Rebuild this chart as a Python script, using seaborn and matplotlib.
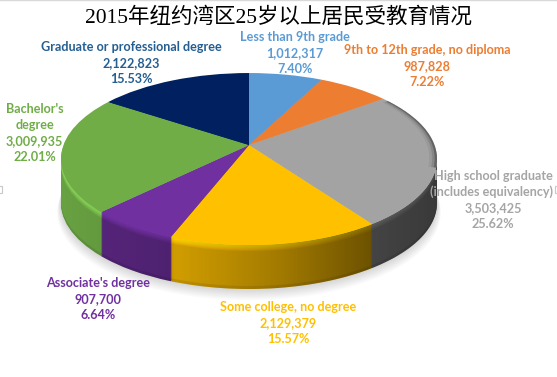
import numpy as np
import matplotlib
matplotlib.use("Agg")
import matplotlib.pyplot as plt
from matplotlib.patches import Circle, Wedge, PathPatch, Rectangle
from matplotlib.path import Path
from matplotlib.transforms import Transform
import seaborn as sns

title = "2015年纽约湾区25岁以上居民受教育情况"
categories = [["Less than 9th grade"], ["9th to 12th grade, no diploma"],
              ["High school graduate", "(includes equivalency) "],
              ["Some college, no degree"], ["Associate's degree"],
              ["Bachelor's", "degree"], ["Graduate or professional degree"]]
values = [1012317, 987828, 3503425, 2129379, 907700, 3009935, 2122823]
value_labels = ["1,012,317", "987,828", "3,503,425", "2,129,379", "907,700", "3,009,935", "2,122,823"]
percent_labels = ["7.40%", "7.22%", "25.62%", "15.57%", "6.64%", "22.01%", "15.53%"]
slice_colors = ["#5B9BD5", "#ED7D31", "#A3A3A3", "#FFC000", "#7030A0", "#70AD47", "#002060"]
label_colors = ["#5B9BD5", "#ED7D31", "#A5A5A5", "#FFC000", "#7030A0", "#70AD47", "#255E91"]
wall_scale = [1.0, 1.0, 1.0, 1.0, 0.92, 1.08, 1.0]
label_x = [295, 427.5, 493, 288.5, 98, 34.5, 131.5]
label_top_y = [37, 50, 176, 307, 283, 109, 47]

sns.set_theme(style="white")
plt.rcParams["font.family"] = ["Lato", "DejaVu Sans"]
palette = sns.color_palette(slice_colors)

CX, CY, SX, K, P, DEPTH = 249.0, 145.0, 185.5, 83.7, 0.163, 44


class Perspective(Transform):
    input_dims = output_dims = 2
    has_inverse = False

    def __init__(self, dy=0.0):
        super().__init__()
        self.dy = dy

    def transform_non_affine(self, xy):
        xy = np.asarray(xy, float)
        w = 1 + P * xy[:, 1]
        return np.column_stack([CX + SX * xy[:, 0] / w, CY + self.dy - K * xy[:, 1] / w])


fig = plt.figure(figsize=(5.57, 3.77), dpi=100, facecolor="white")
ax = fig.add_axes([0, 0, 1, 1])


def draw_pie(colors, dy, z):
    wedges, _ = ax.pie(values, colors=colors, startangle=90, counterclock=False,
                       radius=1, frame=True, wedgeprops=dict(linewidth=0))
    for w in wedges:
        w.set_transform(Perspective(dy) + ax.transData)
        w.set_zorder(z)
    return wedges


# soft shadow
for k in range(1, 11):
    c = Circle((0, 0), 1.0 + 0.002 * k, facecolor="#000000", alpha=0.015, linewidth=0, zorder=1)
    ax.add_patch(c)
    c.set_transform(Perspective(DEPTH + k * 0.9) + ax.transData)


def layer_factor(d):
    if d < 2:
        return 1.12
    if d < 7:
        return 1.12 - (d - 2) * 0.05
    if d > DEPTH - 3:
        return 0.78
    return 0.86


for d in range(DEPTH, 0, -1):
    f = layer_factor(d)
    cols = [tuple(np.clip(np.array(col) * f * wall_scale[i], 0, 1)) for i, col in enumerate(palette)]
    draw_pie(cols, d, 2)

# horizontal wall shading, clipped to the wall band
t = np.linspace(0, 2 * np.pi, 721)
unit = np.column_stack([np.cos(t), np.sin(t)])
lower = unit[(np.sin(t) <= -0.163)]
lower = lower[np.argsort(lower[:, 0])]
wall = np.vstack([Perspective(DEPTH).transform_non_affine(lower),
                  Perspective(0).transform_non_affine(lower)[::-1]])
grad_x = np.linspace(55, 445, 200)
grad_alpha = np.interp(grad_x, [60, 170, 175, 280, 370, 375, 445], [0.0, 0.12, 0.05, 0.26, 0.50, 0.52, 0.60])
rgba = np.zeros((1, 200, 4))
rgba[0, :, 3] = grad_alpha
im = ax.imshow(rgba, extent=(55, 445, 300, 100), aspect="auto", zorder=3, interpolation="bilinear")
clip = PathPatch(Path(np.vstack([wall, wall[:1]]), closed=True), transform=ax.transData)
im.set_clip_path(clip)

draw_pie(list(palette), 0, 4)

# darkened rim on the far right of the top face
for width, alpha in [(0.04, 0.06), (0.025, 0.12), (0.012, 0.25)]:
    r = Wedge((0, 0), 1, -15, 35, width=width, facecolor="black", alpha=alpha, linewidth=0, zorder=5)
    ax.add_patch(r)
    r.set_transform(Perspective(0) + ax.transData)

for i, lines in enumerate(categories):
    rows = list(lines) + [value_labels[i], percent_labels[i]]
    for j, s in enumerate(rows):
        ax.text(label_x[i], label_top_y[i] + 16 * j, s, color=label_colors[i], fontsize=9.05,
                fontweight="bold", ha="center", va="center", zorder=6, clip_on=True)

ax.text(279, 17, title, family=["Liberation Serif", "Noto Sans CJK SC"], fontsize=15.5,
        color="#000000", ha="center", va="center", zorder=6)

# chart frame line and selection handles at the image edges
ax.plot([0, 557], [0.3, 0.3], color="#D9D9D9", lw=1, zorder=7)
for hx in (-2, 555):
    ax.add_patch(Rectangle((hx, 186), 4, 7, facecolor="white", edgecolor="#C8C8C8", lw=0.8, zorder=7))

ax.set_aspect("auto")
ax.set_xlim(0, 557)
ax.set_ylim(377, 0)
ax.set_axis_off()
fig.savefig("out.png", dpi=100)
